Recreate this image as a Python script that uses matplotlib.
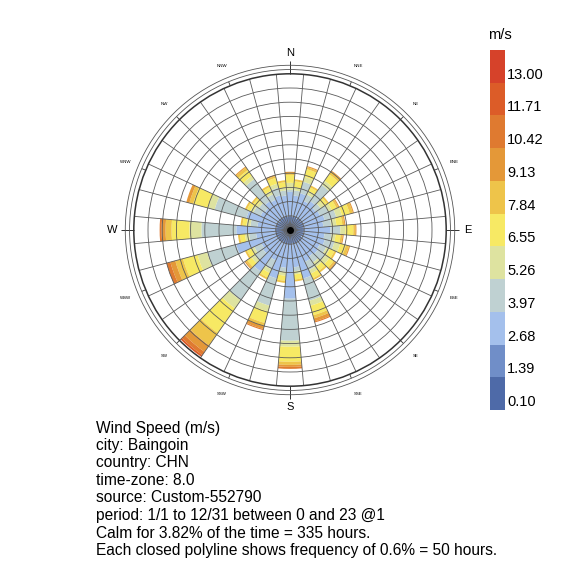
import numpy as np
import matplotlib
matplotlib.use("Agg")
import matplotlib.pyplot as plt

plt.rcParams['font.family'] = ['Liberation Sans', 'DejaVu Sans']

# wind directions (bin centres, degrees from north)
directions = np.arange(0, 360, 10)

# hours per direction bin for each speed class (0.10 m/s upwards)
hrs_c0 = [18, 17, 18, 16, 18, 17, 18, 18, 17, 18, 17, 18, 16, 18, 17, 18, 18, 17,
          19, 18, 18, 17, 19, 18, 17, 19, 18, 19, 17, 18, 17, 16, 18, 17, 18, 17]
hrs_c1 = [32, 31, 32, 30, 32, 31, 32, 32, 31, 32, 31, 32, 30, 32, 31, 32, 32, 31,
          33, 32, 32, 31, 33, 32, 31, 33, 32, 33, 31, 32, 31, 30, 32, 31, 32, 31]
hrs_c2 = [84, 74, 84, 67, 74, 63, 67, 77, 70, 92, 74, 77, 70, 70, 67, 74, 127, 84,
          190, 84, 127, 70, 127, 67, 63, 144, 70, 137, 67, 109, 67, 63, 74, 70, 77, 74]
hrs_c3 = [7, 18, 42, 25, 70, 21, 32, 42, 28, 35, 25, 35, 25, 32, 25, 32, 81, 14,
          148, 14, 99, 35, 123, 35, 28, 106, 25, 123, 25, 116, 28, 25, 95, 21, 28, 18]
hrs_c4 = [25, 11, 18, 14, 18, 14, 14, 21, 18, 18, 14, 21, 14, 18, 18, 14, 18, 11,
          21, 14, 21, 14, 35, 14, 11, 35, 14, 42, 14, 25, 11, 11, 14, 14, 14, 11]
hrs_c5 = [28, 21, 28, 14, 28, 14, 18, 28, 21, 28, 18, 21, 18, 18, 18, 18, 35, 18,
          53, 18, 42, 18, 106, 18, 18, 53, 18, 63, 14, 53, 14, 14, 25, 14, 21, 18]
hrs_c6 = [7, 7, 7, 7, 11, 7, 7, 11, 7, 7, 7, 11, 7, 7, 7, 7, 11, 7,
          11, 7, 11, 7, 53, 7, 7, 28, 7, 21, 7, 14, 7, 7, 11, 7, 7, 7]
hrs_c7 = [4, 0, 4, 0, 4, 0, 4, 4, 4, 4, 4, 4, 0, 4, 0, 0, 11, 0,
          7, 0, 11, 0, 28, 4, 0, 18, 0, 14, 0, 11, 0, 0, 4, 0, 4, 0]
hrs_c8 = [0, 0, 0, 0, 0, 0, 0, 0, 0, 0, 0, 0, 0, 0, 0, 0, 4, 0,
          7, 0, 4, 0, 14, 0, 0, 14, 0, 7, 0, 0, 0, 0, 0, 0, 0, 0]
hrs_c9 = [0, 0, 0, 0, 0, 0, 0, 0, 0, 0, 0, 0, 0, 0, 0, 0, 0, 0,
          0, 0, 0, 0, 7, 0, 0, 0, 0, 0, 0, 0, 0, 0, 0, 0, 0, 0]

speed_labels = ["0.10", "1.39", "2.68", "3.97", "5.26", "6.55",
                "7.84", "9.13", "10.42", "11.71", "13.00"]
colors = ["#4e6aa8", "#708ec8", "#a4c0ec", "#bfd1d2", "#dee3a0", "#f7e964",
          "#eec44a", "#e49838", "#df7a30", "#dc5c28", "#d6422a"]

compass = ["N", "NNE", "NE", "ENE", "E", "ESE", "SE", "SSE",
           "S", "SSW", "SW", "WSW", "W", "WNW", "NW", "NNW"]

info = ["Wind Speed (m/s)",
        "city: Baingoin",
        "country: CHN",
        "time-zone: 8.0",
        "source: Custom-552790",
        "period: 1/1 to 12/31 between 0 and 23 @1",
        "Calm for 3.82% of the time = 335 hours.",
        "Each closed polyline shows frequency of 0.6% = 50 hours."]

W, H = 584, 579
fig = plt.figure(figsize=(W / 100, H / 100), dpi=100)

# polar axes: centre (290, 230) px, 0.284 px per hour
cx, cy = 290, 230
k = 0.284
rmax = 580
rpx = rmax * k
ax = fig.add_axes([(cx - rpx) / W, (H - cy - rpx) / H, 2 * rpx / W, 2 * rpx / H],
                  projection='polar')
ax.set_theta_zero_location('N')
ax.set_theta_direction(-1)
ax.set_ylim(0, rmax)
ax.axis('off')

theta = np.deg2rad(directions)
width = np.deg2rad(10)
bottom = np.zeros(len(directions))
for vals, col in zip([hrs_c0, hrs_c1, hrs_c2, hrs_c3, hrs_c4, hrs_c5,
                      hrs_c6, hrs_c7, hrs_c8, hrs_c9], colors):
    vals = np.array(vals, dtype=float)
    ax.bar(theta, vals, width=width, bottom=bottom, color=col,
           edgecolor='none', linewidth=0, zorder=2)
    bottom += vals

# spokes between direction bins
grid_col = '#5a5a5a'
for a in np.arange(5, 360, 10):
    ax.plot([np.deg2rad(a)] * 2, [0, 550], color=grid_col, lw=0.6, zorder=3,
            solid_capstyle='butt')
ax.plot([0], [0], 'o', color='black', ms=4, zorder=4)

# compass ticks and labels
for i, name in enumerate(compass):
    a = np.deg2rad(i * 22.5)
    if i % 4 == 0:
        ax.plot([a, a], [550, 595], color='#333333', lw=0.7, zorder=3,
                clip_on=False, solid_capstyle='butt')
        ax.text(a, 625, name, fontsize=8, ha='center', va='center', clip_on=False)
    else:
        ax.plot([a, a], [550, 565], color='#333333', lw=0.6, zorder=3,
                clip_on=False, solid_capstyle='butt')
        ax.text(a, 625, name, fontsize=3.2, ha='center', va='center', clip_on=False)

# overlay in pixel coordinates: rings, legend, text
lax = fig.add_axes([0, 0, 1, 1])
lax.set_xlim(0, W)
lax.set_ylim(H, 0)
lax.axis('off')

# rings (each closed polyline = 50 hours)
for r in range(50, 550, 50):
    lax.add_patch(plt.Circle((cx, cy), r * k, fill=False, ec=grid_col, lw=0.6))
lax.add_patch(plt.Circle((cx, cy), 550 * k, fill=False, ec='#333333', lw=1.1))
for r in (565, 580):
    lax.add_patch(plt.Circle((cx, cy), r * k, fill=False, ec='#555555', lw=0.6))

# legend
lx0, lx1 = 490, 505
ly_top, ly_bot = 50, 410
step = (ly_bot - ly_top) / len(colors)
for i, (col, lab) in enumerate(zip(colors, speed_labels)):
    y1 = ly_bot - i * step
    lax.add_patch(plt.Rectangle((lx0, y1 - step), lx1 - lx0, step, color=col, lw=0))
    lax.text(lx1 + 2, y1 - 1, lab, fontsize=10.5, ha='left', va='bottom')
lax.text(488, 35, "m/s", fontsize=10.5, ha='left', va='center')

# description text
for i, line in enumerate(info):
    lax.text(96, 428 + 17.5 * i, line, fontsize=11.2, ha='left', va='center')

fig.savefig("out.png", dpi=100)
